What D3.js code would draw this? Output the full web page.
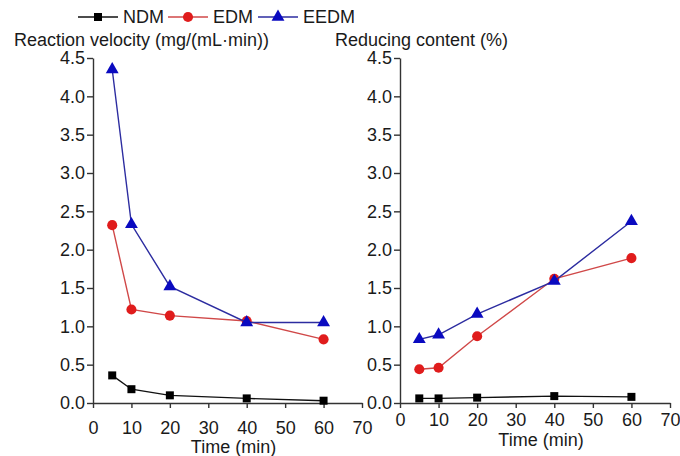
<!DOCTYPE html>
<html>
<head>
<meta charset="utf-8">
<script src="https://cdn.jsdelivr.net/npm/d3@7"></script>
<style>
  body { margin: 0; background: #fff; }
  text { font-family: "Liberation Sans", Arial, sans-serif; fill: #1a1a1a; }
</style>
</head>
<body>
<div id="chart"></div>
<script>
// time points (min)
var times = [5, 10, 20, 40, 60];

// reaction velocity, mg/(mL·min)
var velNDM  = [0.36, 0.18, 0.10, 0.06, 0.03];
var velEDM  = [2.32, 1.22, 1.14, 1.07, 0.83];
var velEEDM = [4.35, 2.33, 1.52, 1.05, 1.05];

// reducing content, %
var redNDM  = [0.06, 0.06, 0.07, 0.09, 0.08];
var redEDM  = [0.44, 0.46, 0.87, 1.62, 1.89];
var redEEDM = [0.83, 0.89, 1.16, 1.59, 2.37];

var seriesNames = ["NDM", "EDM", "EEDM"];
var xTicks = [0, 10, 20, 30, 40, 50, 60, 70];
var yTicks = [0, 0.5, 1.0, 1.5, 2.0, 2.5, 3.0, 3.5, 4.0, 4.5];

var width = 680,
    height = 456;

var style = {
  NDM:  { line: "#111", mark: "#000", shape: d3.symbolSquare, size: 64 },
  EDM:  { line: "#d04848", mark: "#e01c1c", shape: d3.symbolCircle, size: 80 },
  EEDM: { line: "#2c2ca0", mark: "#0a0ac0", shape: d3.symbolTriangle, size: 72 }
};

var svg = d3.select("#chart").append("svg")
    .attr("width", width)
    .attr("height", height);

var y = d3.scaleLinear().domain([0, 4.5]).range([403, 58]);

function panel(x0, x1, data, yTitle, yTitleX, yTitleY, xPad, xTitleY) {
  var x = d3.scaleLinear().domain([0, 70]).range([x0, x1]);
  var g = svg.append("g");

  var xAxis = g.append("g")
      .attr("transform", "translate(0,403)")
      .call(d3.axisBottom(x).tickValues(xTicks).tickSize(5).tickSizeOuter(0).tickPadding(xPad));
  var yAxis = g.append("g")
      .attr("transform", "translate(" + x0 + ",0)")
      .call(d3.axisLeft(y).tickValues(yTicks).tickSize(6).tickSizeOuter(0).tickPadding(2)
        .tickFormat(d3.format(".1f")));

  [xAxis, yAxis].forEach(function(a) {
    a.selectAll("path, line").attr("stroke", "#333").attr("stroke-width", 1.4);
    a.selectAll("text").style("font-size", "18px").attr("fill", "#1a1a1a");
  });

  g.append("text")
      .attr("x", yTitleX)
      .attr("y", yTitleY)
      .style("font-size", "18px")
      .text(yTitle);

  g.append("text")
      .attr("x", x(35) + 6)
      .attr("y", xTitleY)
      .attr("text-anchor", "middle")
      .style("font-size", "18px")
      .text("Time (min)");

  var line = d3.line()
      .x(function(d, i) { return x(times[i]); })
      .y(function(d) { return y(d); });

  seriesNames.forEach(function(name, k) {
    var s = style[name];
    g.append("path")
        .datum(data[k])
        .attr("fill", "none")
        .attr("stroke", s.line)
        .attr("stroke-width", 1.4)
        .attr("d", line);
    g.selectAll(null)
        .data(data[k])
      .enter().append("path")
        .attr("transform", function(d, i) { return "translate(" + x(times[i]) + "," + y(d) + ")"; })
        .attr("d", d3.symbol().type(s.shape).size(s.size))
        .attr("fill", s.mark);
  });
}

panel(93, 362, [velNDM, velEDM, velEEDM], "Reaction velocity (mg/(mL\u00b7min))", 14, 45.5, 13, 453);
panel(400, 670, [redNDM, redEDM, redEEDM], "Reducing content (%)", 335, 46, 5, 446);

// legend
var legend = svg.append("g").attr("transform", "translate(78,17)");
var legendX = [0, 90, 180];
seriesNames.forEach(function(name, k) {
  var s = style[name];
  var lg = legend.append("g").attr("transform", "translate(" + legendX[k] + ",0)");
  lg.append("line")
      .attr("x1", 0).attr("x2", 40)
      .attr("stroke", s.line)
      .attr("stroke-width", 1.6);
  lg.append("path")
      .attr("transform", "translate(20,0)")
      .attr("d", d3.symbol().type(s.shape).size(s.size))
      .attr("fill", s.mark);
  lg.append("text")
      .attr("x", 45)
      .attr("dy", "0.36em")
      .style("font-size", "18px")
      .text(name);
});
</script>
</body>
</html>
